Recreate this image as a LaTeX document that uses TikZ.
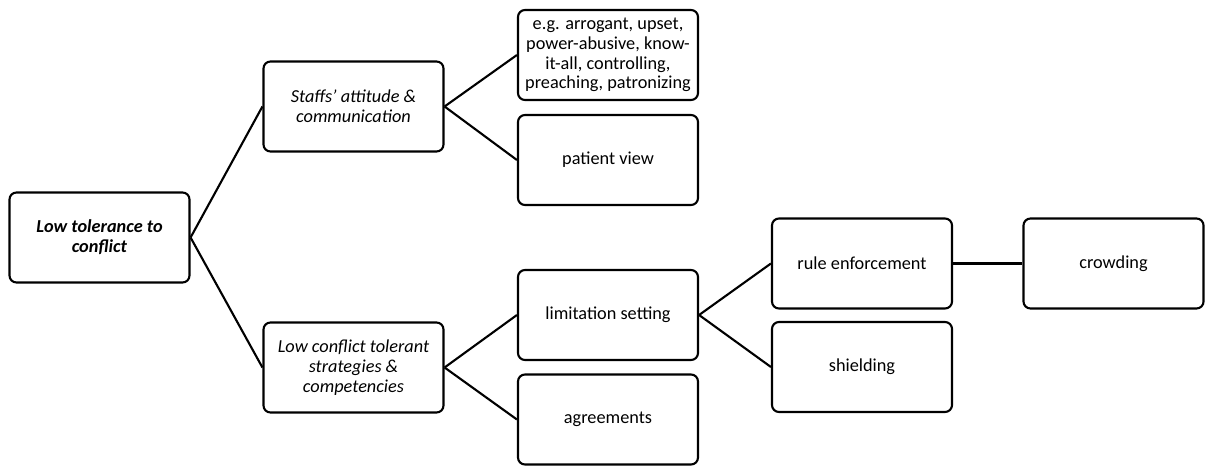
\documentclass[tikz,border=0pt]{standalone}
\usepackage{fontspec}
\setmainfont{Carlito}
\usetikzlibrary{positioning}

\tikzset{
	box/.style = {draw, line width = 1.5pt, rounded corners = 5pt, minimum width = 4.5cm,
		minimum height = 2.25cm, inner sep = 1pt, align = center, font = \fontsize{13}{14}\selectfont},
	link/.style = {line width = 1.5pt}
}

\begin{document}
\begin{tikzpicture}[x = 0.025cm, y = -0.025cm]
	\useasboundingbox (0,0) rectangle (1205,466);
	
	% level 1
	\node[box] (root) at (99.5,237.5) {\textbf{\textit{Low tolerance to}}\\\textbf{\textit{conflict}}};
	
	% level 2
	\node[box] (staff) at (353.5,106.5) {\textit{Staffs' attitude \&}\\\textit{communication}};
	\node[box] (lowc) at (353.5,367.5) {\textit{Low conflict tolerant}\\\textit{strategies \&}\\\textit{competencies}};
	
	% level 3
	\node[box] (eg) at (608,55) {e.g. arrogant, upset,\\power-abusive, know-\\it-all, controlling,\\preaching, patronizing};
	\node[box] (patient) at (608,160) {patient view};
	\node[box] (limit) at (608,315) {limitation setting};
	\node[box] (agree) at (608,419.5) {agreements};
	
	% level 4
	\node[box] (rule) at (862,263.5) {rule enforcement};
	\node[box] (shield) at (862,367) {shielding};
	
	% level 5
	\node[box] (crowd) at (1113.5,263.5) {crowding};
	
	% connectors
	\draw[link] (root.east) -- (staff.west);
	\draw[link] (root.east) -- (lowc.west);
	\draw[link] (staff.east) -- (eg.west);
	\draw[link] (staff.east) -- (patient.west);
	\draw[link] (lowc.east) -- (limit.west);
	\draw[link] (lowc.east) -- (agree.west);
	\draw[link] (limit.east) -- (rule.west);
	\draw[link] (limit.east) -- (shield.west);
	\draw[link] (rule.east) -- (crowd.west);
	
\end{tikzpicture}
\end{document}
